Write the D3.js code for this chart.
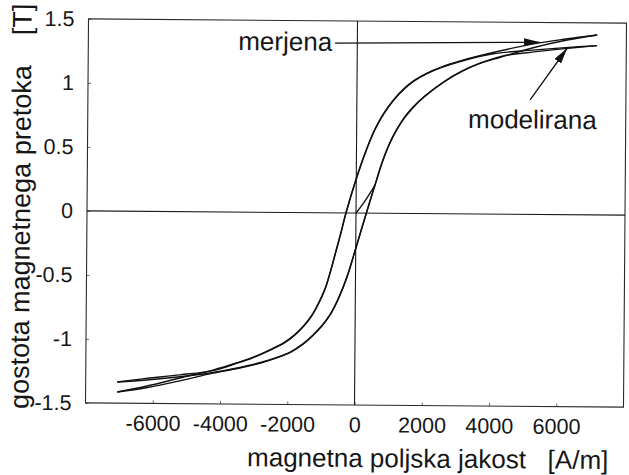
<!DOCTYPE html>
<html>
<head>
<meta charset="utf-8">
<script src="https://cdn.jsdelivr.net/npm/d3@7"></script>
<style>
  body { margin: 0; background: #fff; }
  svg { display: block; }
  text { font-family: "Liberation Sans", Arial, Helvetica, sans-serif; fill: #161616; }
</style>
</head>
<body>
<svg id="chart" width="629" height="475"></svg>
<script>
// Tick values
const hTicks = [-6000, -4000, -2000, 0, 2000, 4000, 6000];
const bTicks = [-1.5, -1, -0.5, 0, 0.5, 1, 1.5];

// Hysteresis loops, [H in A/m, B in T]
const measuredDown = [
  [7130, 1.405], [6200, 1.372], [5200, 1.33], [4040, 1.262], [3090, 1.196],
  [2500, 1.145], [2080, 1.098], [1700, 1.04], [1400, 0.975], [1100, 0.89],
  [800, 0.78], [550, 0.66], [300, 0.5], [0, 0.27], [-300, 0], [-450, -0.16],
  [-600, -0.31], [-750, -0.46], [-900, -0.59], [-1100, -0.71], [-1300, -0.805],
  [-1550, -0.89], [-1800, -0.955], [-2100, -1.015], [-2500, -1.07],
  [-3000, -1.13], [-3500, -1.177], [-4220, -1.236], [-5200, -1.3],
  [-6200, -1.366], [-7060, -1.413]
];
const measuredUp = [
  [-7060, -1.413], [-6200, -1.378], [-5200, -1.322], [-4220, -1.26],
  [-3420, -1.218], [-2800, -1.178], [-2300, -1.135], [-1900, -1.09],
  [-1550, -1.03], [-1250, -0.96], [-1000, -0.89], [-750, -0.8], [-500, -0.67],
  [-250, -0.5], [0, -0.28], [310, 0], [550, 0.21], [800, 0.42], [1050, 0.58],
  [1350, 0.72], [1650, 0.82], [2000, 0.91], [2589, 1.029], [3100, 1.11],
  [3595, 1.17], [4280, 1.227], [5200, 1.3], [6200, 1.362], [7130, 1.405]
];
const modelDown = [
  [7130, 1.322], [6200, 1.305], [5200, 1.283], [4040, 1.252], [3090, 1.192],
  [2500, 1.141], [2080, 1.094], [1700, 1.035], [1400, 0.97], [1100, 0.885],
  [800, 0.775], [550, 0.655], [300, 0.495], [0, 0.265], [-300, -0.005],
  [-450, -0.165], [-600, -0.315], [-750, -0.465], [-900, -0.595], [-1100, -0.715],
  [-1300, -0.81], [-1550, -0.895], [-1800, -0.96], [-2100, -1.02],
  [-2500, -1.074], [-3000, -1.133], [-3500, -1.18], [-4220, -1.24],
  [-5200, -1.275], [-6200, -1.305], [-7060, -1.335]
];
const modelUp = [
  [-7060, -1.335], [-6200, -1.318], [-5200, -1.29], [-4220, -1.255],
  [-3420, -1.214], [-2800, -1.174], [-2300, -1.131], [-1900, -1.086],
  [-1550, -1.025], [-1250, -0.955], [-1000, -0.885], [-750, -0.795],
  [-500, -0.665], [-250, -0.495], [0, -0.275], [310, 0.005], [550, 0.215],
  [800, 0.425], [1050, 0.585], [1350, 0.725], [1650, 0.825], [2000, 0.915],
  [2589, 1.033], [3100, 1.113], [3595, 1.172], [4280, 1.232], [5200, 1.268],
  [6200, 1.298], [7130, 1.322]
];
const modelInitial = [[0, 0], [200, 0.07], [400, 0.15], [560, 0.22]];

const xTitle = "magnetna poljska jakost   [A/m]";
const yTitle = "gostota magnetnega pretoka    [T]";
const labelMeasured = "merjena";
const labelModel = "modelirana";

// Layout
const box = { left: 87, right: 625, top: 21, bottom: 405 };
const x = d3.scaleLinear().domain([-8000, 8000]).range([box.left, box.right]);
const y = d3.scaleLinear().domain([-1.5, 1.5]).range([box.bottom, box.top]);

const svg = d3.select("#chart");
svg.append("rect").attr("width", 629).attr("height", 475).attr("fill", "#fff");

const defs = svg.append("defs");
defs.append("marker")
  .attr("id", "head")
  .attr("markerUnits", "userSpaceOnUse")
  .attr("markerWidth", 17).attr("markerHeight", 9)
  .attr("refX", 16).attr("refY", 4)
  .attr("orient", "auto")
  .append("path").attr("d", "M0,0 L16,4 L0,8 Z").attr("fill", "#111");

// whole sheet sits slightly tilted
const g = svg.append("g").attr("transform", `rotate(0.45 ${x(0)} ${y(0)})`);

// axes with small inward ticks
const xAxis = g.append("g")
  .attr("transform", `translate(0,${box.bottom})`)
  .call(d3.axisBottom(x).tickValues(hTicks).tickSizeInner(-3).tickSizeOuter(0)
        .tickPadding(12).tickFormat(d => String(d)));
const yAxis = g.append("g")
  .attr("transform", `translate(${box.left},0)`)
  .call(d3.axisLeft(y).tickValues(bTicks).tickSizeInner(-3).tickSizeOuter(0)
        .tickPadding(14).tickFormat(d => String(d)));
[xAxis, yAxis].forEach(a => {
  a.select(".domain").remove();
  a.selectAll(".tick line").attr("stroke", "#444").attr("stroke-width", 0.8);
  a.selectAll(".tick text").attr("font-size", 21.5).attr("fill", "#161616")
    .attr("font-family", '"Liberation Sans", Arial, sans-serif');
});

// frame
g.append("rect")
  .attr("x", box.left).attr("y", box.top)
  .attr("width", box.right - box.left).attr("height", box.bottom - box.top)
  .attr("fill", "none").attr("stroke", "#2a2a2a").attr("stroke-width", 1.1);

// zero lines
g.append("line")
  .attr("x1", x(-8000)).attr("x2", x(8000)).attr("y1", y(0)).attr("y2", y(0))
  .attr("stroke", "#1a1a1a").attr("stroke-width", 1.1);
g.append("line")
  .attr("x1", x(0)).attr("x2", x(0)).attr("y1", y(-1.5)).attr("y2", y(1.5))
  .attr("stroke", "#1a1a1a").attr("stroke-width", 1.1);

// loops
const line = d3.line().x(d => x(d[0])).y(d => y(d[1])).curve(d3.curveCatmullRom.alpha(0.5));
[measuredDown, measuredUp, modelDown, modelUp, modelInitial].forEach(s => {
  g.append("path").attr("d", line(s))
    .attr("fill", "none").attr("stroke", "#111").attr("stroke-width", 1.4)
    .attr("stroke-linejoin", "round");
});

// annotations
g.append("text").attr("x", x(-3542)).attr("y", y(1.266))
  .attr("font-size", 26).text(labelMeasured);
g.append("line")
  .attr("x1", x(-665)).attr("y1", y(1.326)).attr("x2", x(5435)).attr("y2", y(1.345))
  .attr("stroke", "#111").attr("stroke-width", 1.3).attr("marker-end", "url(#head)");

g.append("text").attr("x", x(3312)).attr("y", y(0.671))
  .attr("font-size", 26).text(labelModel);
g.append("line")
  .attr("x1", x(5152)).attr("y1", y(0.894)).attr("x2", x(6241)).attr("y2", y(1.3))
  .attr("stroke", "#111").attr("stroke-width", 1.3).attr("marker-end", "url(#head)");

// axis titles
g.append("text")
  .attr("x", 249).attr("y", 467)
  .attr("font-size", 26).style("white-space", "pre").text(xTitle);
g.append("text")
  .attr("transform", "translate(30,209) rotate(-90)")
  .attr("text-anchor", "middle")
  .attr("font-size", 27).style("white-space", "pre").text(yTitle);
</script>
</body>
</html>
